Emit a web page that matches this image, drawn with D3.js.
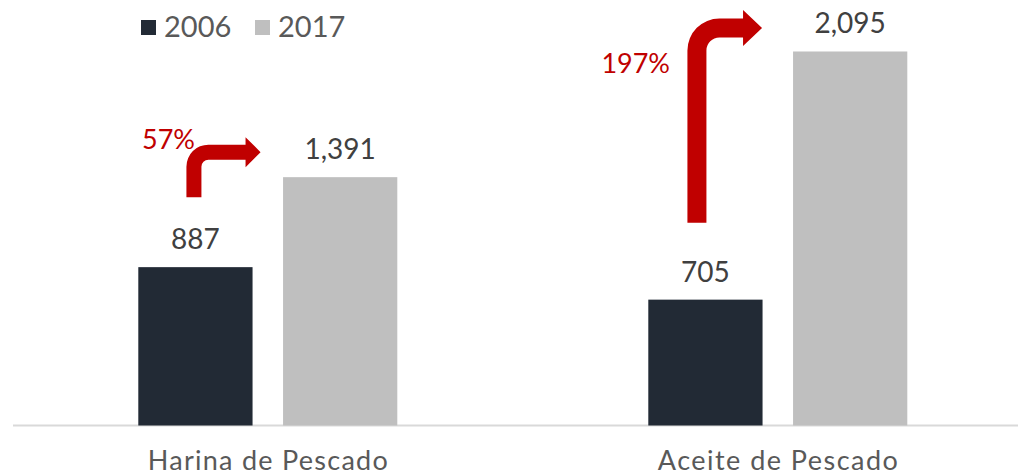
<!DOCTYPE html>
<html>
<head>
<meta charset="utf-8">
<script src="https://cdn.jsdelivr.net/npm/d3@7"></script>
<style>
  body { margin: 0; background: #fff; }
  svg { display: block; font-family: Lato, "Open Sans", sans-serif; }
</style>
</head>
<body>
<svg width="1018" height="475"></svg>
<script>
// data
const categories = ["Harina de Pescado", "Aceite de Pescado"];
const years = ["2006", "2017"];
const values2006 = [887, 705];
const values2017 = [1391, 2095];
const growthLabels = ["57%", "197%"];

const colors = { "2006": "#222A35", "2017": "#BFBFBF" };
const red = "#C00000";

// arrow look per category (offsets in px from the bars / labels)
const arrowLayout = [
  { shaftW: 15, radius: 22, headLen: 15, headHalf: 15, shaftDx: -1.5, bottomGap: 70, aboveGap: 25, tipGap: 22.5, labelX: 195, labelY: 149 },
  { shaftW: 19, radius: 32, headLen: 19, headHalf: 18, shaftDx: -8.5, bottomGap: 77, aboveGap: 23.5, tipGap: 31, labelX: 670, labelY: 73 }
];

const svg = d3.select("svg");

const x0 = d3.scaleBand().domain(categories).range([12.8, 1032.8]).padding(0);
const x1 = d3.scaleBand().domain(years).range([125.5, 384.5]).paddingInner(0.2107);
const y = d3.scaleLinear().domain([0, 2100]).range([425.5, 50.6]);

const rows = categories.map((c, i) => ({
  cat: c,
  bars: [
    { year: "2006", value: values2006[i] },
    { year: "2017", value: values2017[i] }
  ]
}));

// baseline
svg.append("line")
  .attr("x1", 13).attr("x2", 1018)
  .attr("y1", y(0)).attr("y2", y(0))
  .attr("stroke", "#D9D9D9").attr("stroke-width", 2);

const groups = svg.selectAll("g.cat")
  .data(rows)
  .join("g")
  .attr("class", "cat")
  .attr("transform", d => `translate(${x0(d.cat)},0)`);

groups.selectAll("rect")
  .data(d => d.bars)
  .join("rect")
  .attr("x", d => x1(d.year))
  .attr("y", d => y(d.value))
  .attr("width", x1.bandwidth())
  .attr("height", d => y(0) - y(d.value))
  .attr("fill", d => colors[d.year]);

groups.selectAll("text.val")
  .data(d => d.bars)
  .join("text")
  .attr("class", "val")
  .attr("x", d => x1(d.year) + x1.bandwidth() / 2)
  .attr("y", d => y(d.value) - 18)
  .attr("text-anchor", "middle")
  .attr("font-size", 28)
  .attr("fill", "#404040")
  .text(d => d3.format(",")(d.value));

// category labels
svg.selectAll("text.catlab")
  .data(categories)
  .join("text")
  .attr("class", "catlab")
  .attr("x", d => x0(d) + x0.bandwidth() / 2)
  .attr("y", 470)
  .attr("text-anchor", "middle")
  .attr("font-size", 27)
  .attr("textLength", 240)
  .attr("fill", "#595959")
  .text(d => d);

// growth arrows
function arrowPath(a) {
  const left = a.cx - a.shaftW / 2, right = a.cx + a.shaftW / 2;
  const top = a.cy - a.shaftW / 2, bot = a.cy + a.shaftW / 2;
  const R = a.radius, r = Math.max(0, R - a.shaftW);
  const base = a.tip - a.headLen;
  return `M${left},${a.bottom} L${left},${top + R} A${R},${R} 0 0 1 ${left + R},${top}` +
    ` L${base},${top} L${base},${a.cy - a.headHalf} L${a.tip},${a.cy} L${base},${a.cy + a.headHalf}` +
    ` L${base},${bot} L${right + r},${bot} A${r},${r} 0 0 0 ${right},${bot + r} L${right},${a.bottom} Z`;
}

const arrows = categories.map((c, i) => {
  const L = arrowLayout[i];
  return Object.assign({}, L, {
    cx: x0(c) + x1("2006") + x1.bandwidth() / 2 + L.shaftDx,
    bottom: y(values2006[i]) - L.bottomGap,
    cy: y(values2017[i]) - L.aboveGap,
    tip: x0(c) + x1("2017") - L.tipGap,
    label: growthLabels[i]
  });
});

svg.selectAll("path.arrow")
  .data(arrows)
  .join("path")
  .attr("class", "arrow")
  .attr("d", arrowPath)
  .attr("fill", red);

svg.selectAll("text.growth")
  .data(arrows)
  .join("text")
  .attr("class", "growth")
  .attr("x", d => d.labelX)
  .attr("y", d => d.labelY)
  .attr("text-anchor", "end")
  .attr("font-size", 27)
  .attr("fill", red)
  .text(d => d.label);

// legend
const legendX = [141, 255];
const legend = svg.selectAll("g.leg")
  .data(years)
  .join("g")
  .attr("class", "leg")
  .attr("transform", (d, i) => `translate(${legendX[i]},0)`);

legend.append("rect")
  .attr("x", 0).attr("y", 20)
  .attr("width", 15).attr("height", 15)
  .attr("fill", d => colors[d]);

legend.append("text")
  .attr("x", 23).attr("y", 37)
  .attr("font-size", 29)
  .attr("fill", "#595959")
  .text(d => d);
</script>
</body>
</html>
